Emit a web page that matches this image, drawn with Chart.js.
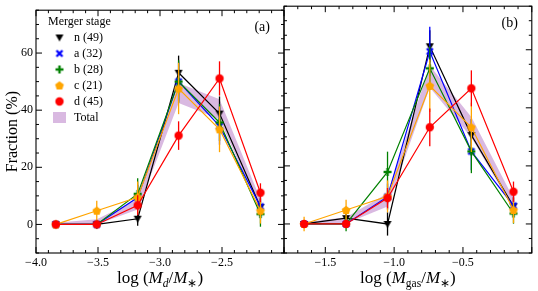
<!DOCTYPE html>
<html>
<head>
<meta charset="utf-8">
<script src="https://cdn.jsdelivr.net/npm/chart.js@4"></script>
<style>
  html, body { margin: 0; padding: 0; background: #fff; }
  #wrap { position: relative; width: 538px; height: 291px; }
  #wrap canvas { position: absolute; left: 0; top: 0; }
</style>
</head>
<body>
<div id="wrap">
  <canvas id="chartA" width="538" height="291"></canvas>
  <canvas id="chartB" width="538" height="291"></canvas>
</div>
<script>
// bin centres on the two x axes
const binsA = [-3.84, -3.51, -3.18, -2.85, -2.52, -2.19];
const binsB = [-1.654, -1.349, -1.048, -0.741, -0.439, -0.133];

const stages = ['n (49)', 'a (32)', 'b (28)', 'c (21)', 'd (45)'];
const colors = ['#000000', '#0000ff', '#008000', '#ffa500', '#ff0000'];
const kinds = ['tri', 'x', 'plus', 'pent', 'circle'];

// panel (a): fraction (%) per merger stage
const nA = [0, 0, 2.0, 53.1, 38.8, 6.1];
const aA = [0, 0, 9.4, 50.0, 34.4, 6.3];
const bA = [0, 0, 10.7, 50.0, 35.7, 3.6];
const cA = [0, 4.8, 9.5, 47.6, 33.3, 4.8];
const dA = [0, 0, 6.7, 31.1, 51.1, 11.1];
const errNA = [0, 0, 2.5, 6, 6, 3];
const errAA = [0, 1.5, 4.5, 7, 6.5, 4];
const errBA = [0, 0, 5.5, 7.5, 6.5, 4.4];
const errCA = [0, 3.5, 5.5, 9, 8, 4.5];
const errDA = [0, 0, 3.5, 5, 6, 3.3];
const totLowA = [0, 0, 5.2, 42.5, 36.8, 5.0];
const totHighA = [0.6, 1.8, 8.8, 49.5, 43.8, 8.8];

// panel (b)
const nB = [0, 2.0, 0, 61.2, 30.6, 6.1];
const aB = [0, 0, 9.4, 59.4, 25.0, 6.3];
const bB = [0, 0, 17.9, 53.6, 25.0, 3.6];
const cB = [0, 4.8, 9.5, 47.6, 33.3, 4.8];
const dB = [0, 0, 8.9, 33.3, 46.7, 11.1];
const errNB = [0, 2, 4, 5.5, 5.5, 3];
const errAB = [0, 0, 4.5, 8.5, 6.5, 4];
const errBB = [0, 2.5, 7, 7.5, 7.5, 3.5];
const errCB = [2.5, 3.5, 5.5, 9, 8.5, 4.5];
const errDB = [0, 0, 3.5, 6.5, 6.2, 3.5];
const totLowB = [0, 0.2, 6.0, 47.0, 29.8, 5.0];
const totHighB = [0.6, 2.3, 10.6, 54.5, 36.8, 8.8];

const bandColor = 'rgba(160, 80, 180, 0.4)';
const serif = "'Liberation Serif', 'Times New Roman', serif";
Chart.defaults.font.family = serif;
Chart.defaults.color = '#000';

function marker(kind, color) {
  const c = document.createElement('canvas');
  c.width = 12; c.height = 12;
  const g = c.getContext('2d');
  const m = 6;
  g.fillStyle = color; g.strokeStyle = color;
  if (kind === 'tri') {
    g.beginPath();
    g.moveTo(m - 4, m - 3); g.lineTo(m + 4, m - 3); g.lineTo(m, m + 4);
    g.closePath(); g.fill();
  } else if (kind === 'x') {
    g.lineWidth = 2.4;
    g.beginPath();
    g.moveTo(m - 3, m - 3); g.lineTo(m + 3, m + 3);
    g.moveTo(m + 3, m - 3); g.lineTo(m - 3, m + 3);
    g.stroke();
  } else if (kind === 'plus') {
    g.fillRect(m - 4, m - 1.2, 8, 2.4);
    g.fillRect(m - 1.2, m - 4, 2.4, 8);
  } else if (kind === 'pent') {
    g.beginPath();
    for (let k = 0; k < 5; k++) {
      const t = -Math.PI / 2 + k * 2 * Math.PI / 5;
      const px = m + 4.6 * Math.cos(t), py = m + 0.4 + 4.6 * Math.sin(t);
      if (k === 0) g.moveTo(px, py); else g.lineTo(px, py);
    }
    g.closePath(); g.fill();
  } else {
    g.beginPath(); g.arc(m, m, 4.2, 0, Math.PI * 2); g.fill();
  }
  return c;
}
const markers = kinds.map((k, i) => marker(k, colors[i]));

function minus(v) { return v.toFixed(1).replace('-', '\u2212'); }

function makeDatasets(bins, series, errs, low, high) {
  const sets = series.map((vals, i) => ({
    label: stages[i],
    data: bins.map((x, j) => ({ x: x, y: vals[j] })),
    err: errs[i],
    borderColor: colors[i],
    backgroundColor: colors[i],
    borderWidth: 1.2,
    pointStyle: markers[i],
    pointRadius: 5,
    tension: 0,
    fill: false,
    order: 4 - i
  }));
  sets.push({
    label: 'Total',
    data: bins.map((x, j) => ({ x: x, y: high[j] })),
    borderWidth: 0, pointRadius: 0,
    backgroundColor: bandColor,
    fill: '+1', order: 10
  });
  sets.push({
    label: 'Total low',
    data: bins.map((x, j) => ({ x: x, y: low[j] })),
    borderWidth: 0, pointRadius: 0,
    fill: false, order: 11
  });
  return sets;
}

// vertical error bars, drawn just below each dataset's own line
const errorBars = {
  id: 'errorBars',
  beforeDatasetDraw(chart, args) {
    const ds = chart.data.datasets[args.index];
    if (!ds.err) return;
    const y = chart.scales.y, ctx = chart.ctx;
    ctx.save();
    ctx.strokeStyle = ds.borderColor;
    ctx.lineWidth = 1.3;
    args.meta.data.forEach((pt, i) => {
      const e = ds.err[i];
      if (!e) return;
      const v = ds.data[i].y;
      ctx.beginPath();
      ctx.moveTo(pt.x, y.getPixelForValue(v + e));
      ctx.lineTo(pt.x, y.getPixelForValue(v - e));
      ctx.stroke();
    });
    ctx.restore();
  }
};

// frame, inward major/minor ticks, panel label and the x-axis title
const frame = {
  id: 'frame',
  afterDraw(chart, args, o) {
    const { ctx, chartArea: a, scales: { x, y } } = chart;
    ctx.save();
    ctx.strokeStyle = '#000';
    ctx.lineWidth = 1.1;
    ctx.strokeRect(a.left, a.top, a.right - a.left, a.bottom - a.top);
    ctx.lineWidth = 1;
    ctx.beginPath();
    for (let k = Math.ceil(x.min * 10 - 1e-6); k <= Math.floor(x.max * 10 + 1e-6); k++) {
      const px = x.getPixelForValue(k / 10);
      const len = k % 5 === 0 ? 6 : 3;
      ctx.moveTo(px, a.bottom); ctx.lineTo(px, a.bottom - len);
      ctx.moveTo(px, a.top); ctx.lineTo(px, a.top + len);
    }
    for (let v = -10; v <= 75; v += 5) {
      const py = y.getPixelForValue(v);
      const len = v % 20 === 0 ? 6 : 3;
      ctx.moveTo(a.left, py); ctx.lineTo(a.left + len, py);
      ctx.moveTo(a.right, py); ctx.lineTo(a.right - len, py);
    }
    ctx.stroke();

    ctx.fillStyle = '#000';
    ctx.font = '14px ' + serif;
    ctx.textAlign = 'right';
    ctx.textBaseline = 'middle';
    ctx.fillText(o.label, a.right - 14, a.top + 17);

    // x title with italic symbols and subscripts
    const big = 17, small = 11.5;
    const fontOf = p => (p[1].includes('i') ? 'italic ' : '') + (p[1].includes('s') ? small : big) + 'px ' + serif;
    let w = 0;
    o.title.forEach(p => { ctx.font = fontOf(p); w += ctx.measureText(p[0]).width; });
    let cx = (a.left + a.right) / 2 - w / 2;
    const base = 283;
    ctx.textAlign = 'left';
    ctx.textBaseline = 'alphabetic';
    o.title.forEach(p => {
      ctx.font = fontOf(p);
      ctx.fillText(p[0], cx, base + (p[1].includes('s') ? 3.5 : 0));
      cx += ctx.measureText(p[0]).width;
    });

    if (o.legend) {
      ctx.font = '12px ' + serif;
      ctx.textBaseline = 'middle';
      ctx.fillText('Merger stage', 48, 21.5);
      stages.forEach((s, i) => {
        const ly = 37.5 + i * 16;
        ctx.drawImage(markers[i], 59.5 - 6, ly - 6);
        ctx.fillText(s, 74, ly);
      });
      ctx.fillStyle = bandColor;
      ctx.fillRect(53, 112, 13, 11);
      ctx.fillStyle = '#000';
      ctx.fillText('Total', 74, 117.5);
    }
    ctx.restore();
  }
};

function xScale(min, max, lastLabel) {
  return {
    type: 'linear', min: min, max: max,
    ticks: {
      stepSize: 0.1, autoSkip: false, maxRotation: 0, padding: 3,
      font: { size: 12 }, color: '#000',
      callback: v => {
        const k = Math.round(v * 10);
        return (k % 5 === 0 && v < lastLabel) ? minus(v) : '';
      }
    },
    grid: { display: false, drawTicks: false },
    border: { display: false },
    afterFit: s => { s.height = 38; }
  };
}

function yScale(show) {
  return {
    display: show,
    min: -10, max: 75,
    ticks: {
      stepSize: 5, autoSkip: false, padding: 3,
      font: { size: 12 }, color: '#000',
      callback: v => (v % 20 === 0 ? String(v) : '')
    },
    grid: { display: false, drawTicks: false },
    border: { display: false },
    title: { display: true, text: 'Fraction (%)', font: { size: 16 }, color: '#000', padding: { top: 3, bottom: 0 } },
    afterFit: s => { s.width = show ? 36 : 0; }
  };
}

new Chart(document.getElementById('chartA'), {
  type: 'line',
  data: { datasets: makeDatasets(binsA, [nA, aA, bA, cA, dA], [errNA, errAA, errBA, errCA, errDA], totLowA, totHighA) },
  options: {
    responsive: false, animation: false, events: [],
    layout: { padding: { top: 5, right: 254, bottom: 0, left: 0 } },
    scales: { x: xScale(-4, -2, -2.05), y: yScale(true) },
    plugins: {
      legend: { display: false }, tooltip: { enabled: false },
      frame: {
        label: '(a)', legend: true,
        title: [['log (', 'n'], ['M', 'i'], ['d', 'is'], ['/', 'n'], ['M', 'i'], ['\u2217', 's'], [')', 'n']]
      }
    }
  },
  plugins: [errorBars, frame]
});

new Chart(document.getElementById('chartB'), {
  type: 'line',
  data: { datasets: makeDatasets(binsB, [nB, aB, bB, cB, dB], [errNB, errAB, errBB, errCB, errDB], totLowB, totHighB) },
  options: {
    responsive: false, animation: false, events: [],
    layout: { padding: { top: 5, right: 4, bottom: 0, left: 284 } },
    scales: { x: xScale(-1.8, 0, -0.05), y: yScale(false) },
    plugins: {
      legend: { display: false }, tooltip: { enabled: false },
      frame: {
        label: '(b)', legend: false,
        title: [['log (', 'n'], ['M', 'i'], ['gas', 's'], ['/', 'n'], ['M', 'i'], ['\u2217', 's'], [')', 'n']]
      }
    }
  },
  plugins: [errorBars, frame]
});
</script>
</body>
</html>
